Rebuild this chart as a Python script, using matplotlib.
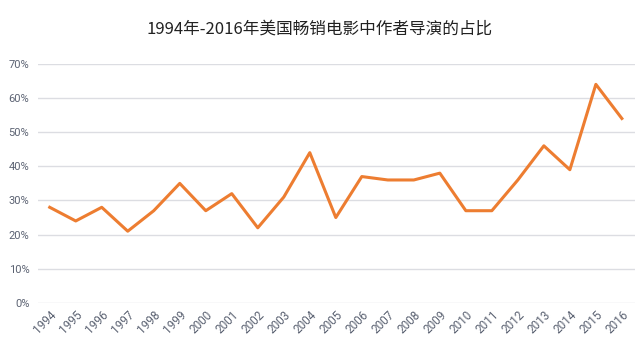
import matplotlib
matplotlib.use("Agg")
import matplotlib.pyplot as plt
from matplotlib.ticker import FuncFormatter

years = [str(y) for y in range(1994, 2017)]
share = [28, 24, 28, 21, 27, 35, 27, 32, 22, 31, 44, 25, 37, 36, 36, 38,
         27, 27, 36, 46, 39, 64, 54]
share = [v / 100 for v in share]
yticks = [0, 0.1, 0.2, 0.3, 0.4, 0.5, 0.6, 0.7]

plt.rcParams['font.family'] = ['Roboto', 'Noto Sans CJK SC', 'DejaVu Sans']

fig = plt.figure(figsize=(6.4, 3.47), dpi=100)
ax = fig.add_axes([0.059, 0.127, 0.933, 0.689])

x = list(range(len(years)))
ax.plot(x, share, color='#ED7D31', linewidth=2.2, clip_on=False, zorder=3)

ax.set_xlim(-0.46, 22.5)
ax.set_ylim(0, 0.7)
ax.set_yticks(yticks)
ax.yaxis.set_major_formatter(FuncFormatter(lambda v, p: f"{v*100:.0f}%"))
ax.set_xticks(x)
ax.set_xticklabels(years, rotation=45, ha='right', rotation_mode='anchor')

ax.grid(axis='y', color='#dcdde2', linewidth=1)
ax.set_axisbelow(True)
for s in ax.spines.values():
    s.set_visible(False)
ax.tick_params(length=0, labelsize=8, colors='#5b6272')
ax.tick_params(axis='x', pad=4, labelsize=8.5)
ax.tick_params(axis='y', pad=6)

fig.text(0.5, 0.915, '1994年-2016年美国畅销电影中作者导演的占比',
         ha='center', va='center', fontsize=12, color='#222222',
         family=['Noto Sans CJK SC', 'DejaVu Sans'])

fig.savefig('out.png', dpi=100, facecolor='white')
